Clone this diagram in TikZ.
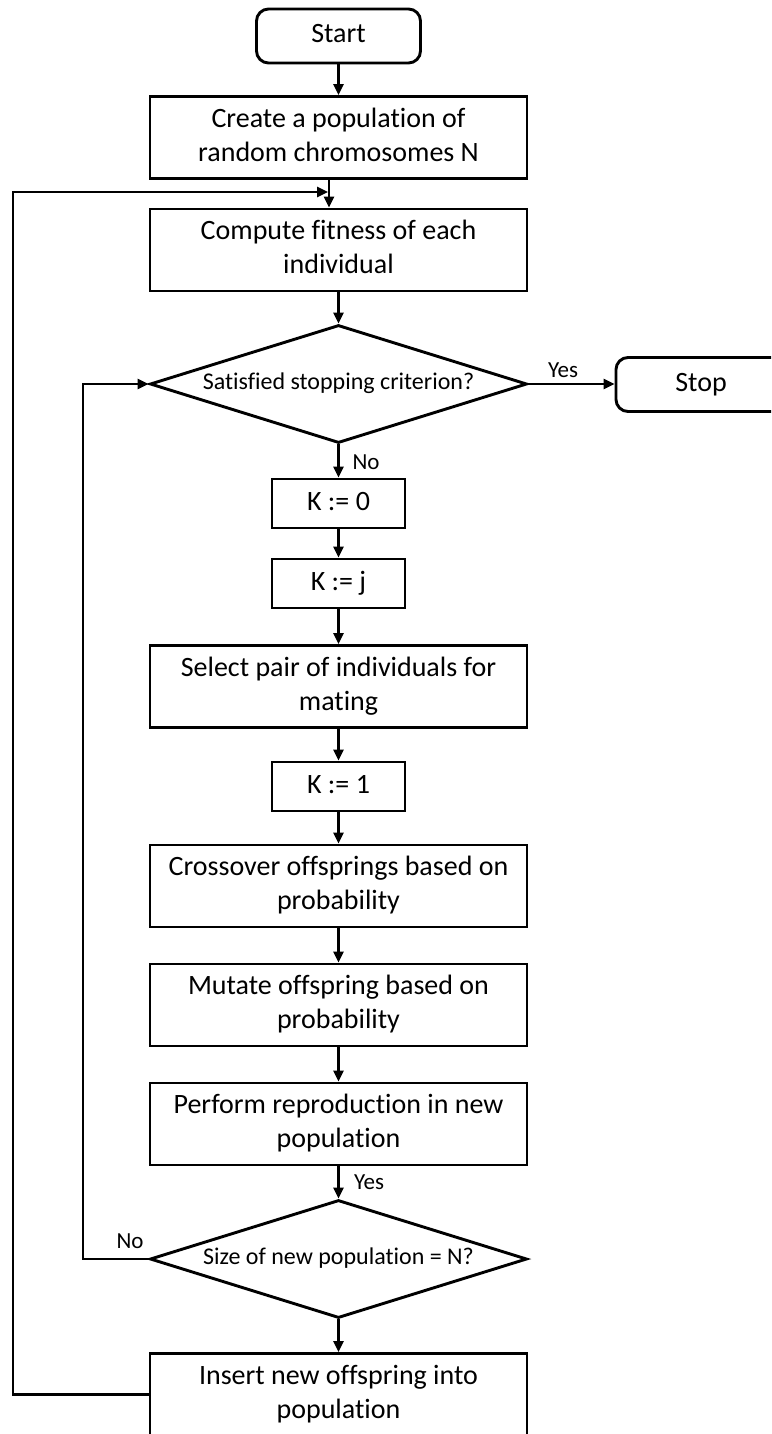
\documentclass[tikz,border=0pt]{standalone}
\usepackage{fontspec}
\setmainfont{Carlito}[Ligatures={NoCommon,NoContextual,NoRare},RawFeature={-liga;-clig;-calt;-dlig}]
\usetikzlibrary{arrows.meta,shapes.geometric}
\begin{document}
\begin{tikzpicture}[x=1pt,y=-1pt,
  every node/.style={font=\fontsize{28}{34}\selectfont, inner sep=0pt},
  proc/.style={draw, line width=2.9pt, minimum width=377pt, minimum height=82pt, align=center},
  smallproc/.style={draw, line width=2.9pt, minimum width=133pt, minimum height=49pt},
  term/.style={draw, line width=2.9pt, rounded corners=12pt, minimum height=54pt},
  decision/.style={draw, diamond, line width=2.9pt, minimum width=377pt, minimum height=118pt,
    shape aspect=3.2, font=\fontsize{24}{29}\selectfont},
  lbl/.style={font=\fontsize{23}{28}\selectfont},
  flow/.style={line width=2.6pt, -{Triangle[length=11pt,width=10pt]}},
]
\useasboundingbox (0,0) rectangle (771,1434);
\clip (0,0) rectangle (771,1434);
\fill[white] (0,0) rectangle (771,1434);

% main column
\node[term, minimum width=164pt] (start) at (338.5,36) {\strut Start};
\node[proc] (create) at (338.5,137.5) {\strut Create a population of\\\strut random chromosomes N};
\node[proc] (fit) at (338.5,250) {\strut Compute fitness of each\\\strut individual};
\node[decision] (stopq) at (338.5,384) {\strut Satisfied stopping criterion?};
\node[term, minimum width=170pt] (stop) at (701,384.5) {\strut Stop};
\node[smallproc] (k0) at (338.5,503.5) {\strut K := 0};
\node[smallproc] (kj) at (338.5,583.5) {\strut K := j};
\node[proc] (select) at (338.5,686.5) {\strut Select pair of individuals for\\\strut mating};
\node[smallproc] (k1) at (338.5,786.5) {\strut K := 1};
\node[proc] (cross) at (338.5,886) {\strut Crossover offsprings based on\\\strut probability};
\node[proc] (mutate) at (338.5,1005) {\strut Mutate offspring based on\\\strut probability};
\node[proc] (repro) at (338.5,1124) {\strut Perform reproduction in new\\\strut population};
\node[decision] (sizeq) at (338.5,1259) {\strut Size of new population = N?};
\node[proc] (insert) at (338.5,1394.5) {\strut Insert new offspring into\\\strut population};

% branch labels
\node[lbl] (yes1) at (563,370) {Yes};
\node[lbl] (no1) at (366,462) {No};
\node[lbl] (yes2) at (369,1182) {Yes};
\node[lbl] (no2) at (130,1241) {No};

% turning points of the two feedback loops
\coordinate (noturn) at (83,1259);
\coordinate (back) at (13,1394.5);
\coordinate (merge) at (329,192);

% forward flow
\draw[flow] (start) -- (create);
\draw[flow] ([xshift=-9.5pt]create.south) -- ([xshift=-9.5pt]fit.north);
\draw[flow] (fit) -- (stopq);
\draw[flow] (stopq.east) -- (stopq.east -| stop.west);
\draw[flow] (stopq) -- (k0);
\draw[flow] (k0) -- (kj);
\draw[flow] (kj) -- (select);
\draw[flow] (select) -- (k1);
\draw[flow] (k1) -- (cross);
\draw[flow] (cross) -- (mutate);
\draw[flow] (mutate) -- (repro);
\draw[flow] (repro) -- (sizeq);
\draw[flow] (sizeq) -- (insert);

% feedback loops
\draw[flow] (sizeq.west) -- (noturn) |- (stopq.west);
\draw[flow] (insert.west) -- (back) |- ([xshift=-1pt]merge);
\end{tikzpicture}
\end{document}
